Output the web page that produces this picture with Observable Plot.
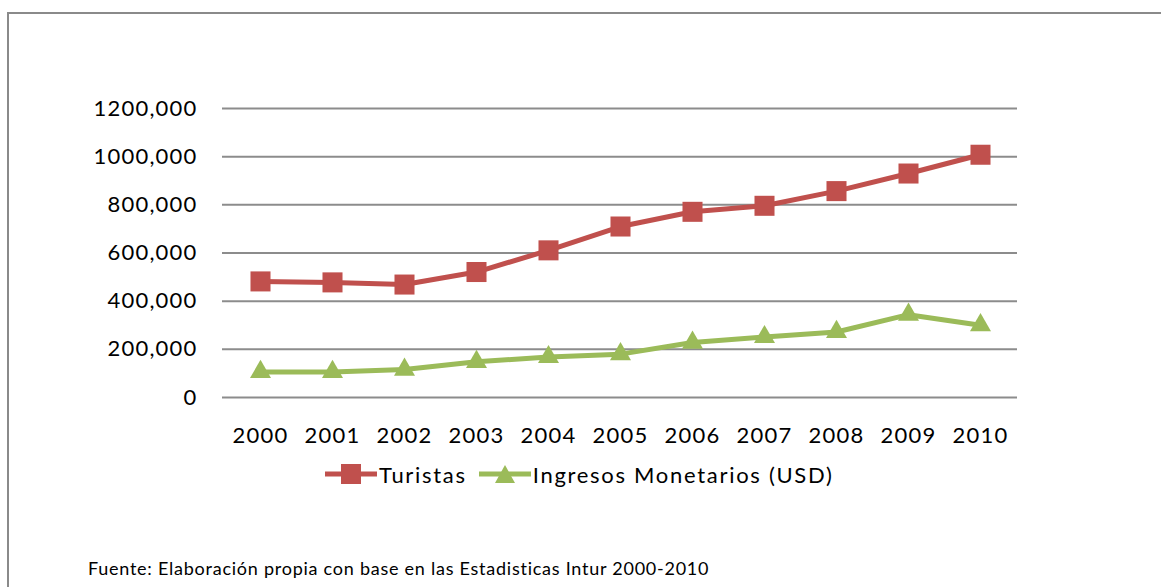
<!DOCTYPE html>
<html>
<head>
<meta charset="utf-8">
<script src="https://cdn.jsdelivr.net/npm/d3@7"></script>
<script src="https://cdn.jsdelivr.net/npm/@observablehq/plot@0.6"></script>
<style>
  html, body { margin: 0; padding: 0; background: #fff; }
  #wrap { position: relative; width: 1161px; height: 587px; overflow: hidden; font-family: Lato, "Open Sans", sans-serif; }
  #frame { position: absolute; left: 7px; top: 12px; width: 1200px; height: 600px; border-top: 2px solid #8a8a8a; border-left: 2px solid #8a8a8a; box-sizing: border-box; }
  #chart { position: absolute; left: 0; top: 0; }
  #chart svg text { letter-spacing: 1.2px; }
  #legend { position: absolute; top: 459px; left: 325px; display: flex; align-items: center; font-size: 22px; color: #000; white-space: nowrap; letter-spacing: 1.7px; }
  #legend .item { display: flex; align-items: center; }
  #caption { position: absolute; left: 88px; top: 557px; font-size: 18px; color: #000; white-space: nowrap; letter-spacing: 0.75px; }
</style>
</head>
<body>
<div id="wrap">
  <div id="frame"></div>
  <div id="chart"></div>
  <div id="legend"></div>
  <div id="caption">Fuente: Elaboración propia con base en las Estadisticas Intur 2000-2010</div>
</div>
<script>
const years = ["2000","2001","2002","2003","2004","2005","2006","2007","2008","2009","2010"];
const turistas = [482000, 478000, 469000, 521000, 611000, 710000, 771000, 796000, 857000, 930000, 1008000];
const ingresos = [106000, 106000, 116000, 148000, 168000, 180000, 228000, 251000, 272000, 344000, 300000];
const yTicks = [0, 200000, 400000, 600000, 800000, 1000000, 1200000];
const seriesNames = ["Turistas", "Ingresos Monetarios (USD)"];
const colors = ["#C0504D", "#9BBB59"];

const dataT = years.map((y, i) => ({year: y, value: turistas[i]}));
const dataI = years.map((y, i) => ({year: y, value: ingresos[i]}));

const fmt = d => d === 0 ? "0" : `${d / 1000},000`;

const chart = Plot.plot({
  width: 1161,
  height: 460,
  marginLeft: 222,
  marginRight: 144,
  marginTop: 108,
  marginBottom: 63,
  style: { fontFamily: "Lato, 'Open Sans', sans-serif", fontSize: "22px", color: "#000", background: "transparent" },
  x: { type: "point", domain: years, padding: 0.5, tickSize: 0, tickPadding: 30, label: null },
  y: { domain: [0, 1200000], ticks: yTicks, tickFormat: fmt, tickSize: 0, tickPadding: 25, label: null },
  marks: [
    Plot.ruleY(yTicks, { stroke: "#8c8c8c", strokeWidth: 2, strokeOpacity: 1 }),
    Plot.line(dataI, { x: "year", y: "value", stroke: colors[1], strokeWidth: 5 }),
    Plot.dot(dataI, { x: "year", y: "value", symbol: "triangle", r: 7.8, fill: colors[1], stroke: "none" }),
    Plot.line(dataT, { x: "year", y: "value", stroke: colors[0], strokeWidth: 5 }),
    Plot.dot(dataT, { x: "year", y: "value", symbol: "square", r: 11.3, fill: colors[0], stroke: "none" })
  ]
});
document.getElementById("chart").appendChild(chart);

// legend
const legend = document.getElementById("legend");
const swatchSymbols = ["square", "triangle"];
seriesNames.forEach((name, i) => {
  const item = document.createElement("div");
  item.className = "item";
  item.style.marginRight = i === 0 ? "12px" : "0";
  const sym = swatchSymbols[i] === "square"
    ? `<rect x="16" y="5" width="20" height="20" fill="${colors[i]}"/>`
    : `<path d="M26,6 L36,24 L16,24 Z" fill="${colors[i]}"/>`;
  item.innerHTML = `<svg width="52" height="30"><line x1="0" y1="15" x2="52" y2="15" stroke="${colors[i]}" stroke-width="5"/>${sym}</svg><span style="margin-left:2px">${name}</span>`;
  legend.appendChild(item);
});
</script>
</body>
</html>
